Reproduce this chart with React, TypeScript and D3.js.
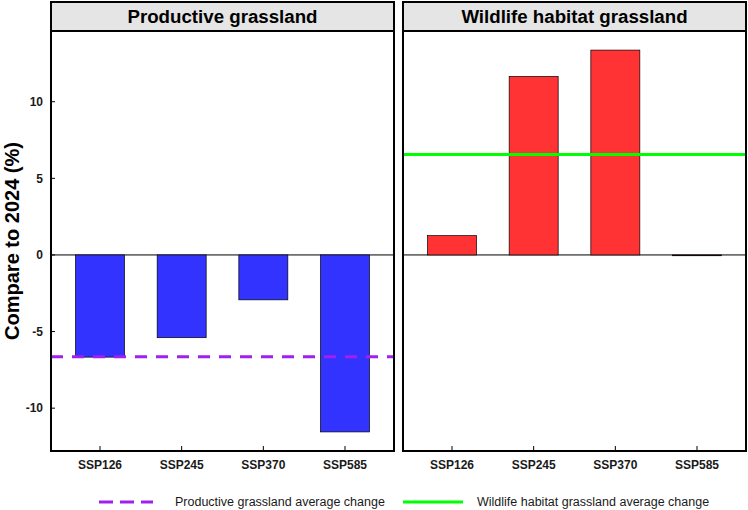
import React from "react";
import * as d3 from "d3";

const scenarios = ["SSP126", "SSP245", "SSP370", "SSP585"];
const productiveChange = [-6.67, -5.4, -2.93, -11.55];
const wildlifeChange = [1.26, 11.65, 13.37, -0.05];
const panelTitles = ["Productive grassland", "Wildlife habitat grassland"];
const yTicks = [-10, -5, 0, 5, 10];
const legendLabels = ["Productive grassland average change", "Wildlife habitat grassland average change"];

const W = 748, H = 510;
const FONT = "Liberation Sans, Arial, Helvetica, sans-serif";
const plotTop = 31, plotBottom = 451, stripTop = 2;
const panelsX: [number, number][] = [[51, 394], [403, 746]];
const barColors = ["#3333FF", "#FF3333"];
const avgColors = ["#A020F0", "#00FF00"];

export default function App() {
  const all = [...productiveChange, ...wildlifeChange];
  const lo = d3.min(all)!, hi = d3.max(all)!;
  const pad = (hi - lo) * 0.05;
  const y = d3.scaleLinear().domain([lo - pad, hi + pad]).range([plotBottom, plotTop]);
  const series = [productiveChange, wildlifeChange];

  return (
    <svg width={W} height={H} style={{ position: "absolute", left: 0, top: 0, background: "#fff" }} fontFamily={FONT}>
      {series.map((vals, pi) => {
        const [x0, x1] = panelsX[pi];
        const x = d3.scalePoint<string>().domain(scenarios).range([x0, x1]).padding(0.6);
        const bw = x.step() * 0.6;
        const avg = d3.mean(vals)!;
        return (
          <g key={pi}>
            <rect x={x0} y={plotTop} width={x1 - x0} height={plotBottom - plotTop} fill="#fff" />
            <line x1={x0} x2={x1} y1={y(0)} y2={y(0)} stroke="#000" strokeWidth={1} />
            {vals.map((v, i) => (
              <rect key={i} x={x(scenarios[i])! - bw / 2} width={bw}
                y={Math.min(y(v), y(0))} height={Math.max(Math.abs(y(v) - y(0)), 0.8)}
                fill={barColors[pi]} stroke="#000" strokeWidth={0.7} />
            ))}
            <line x1={x0} x2={x1} y1={y(avg)} y2={y(avg)} stroke={avgColors[pi]} strokeWidth={3}
              strokeDasharray={pi === 0 ? "12 9" : undefined} />
            {scenarios.map((s) => (
              <g key={s}>
                <line x1={x(s)} x2={x(s)} y1={plotBottom} y2={plotBottom - 5} stroke="#000" strokeWidth={1} />
                <text x={x(s)} y={plotBottom + 18} textAnchor="middle" fontSize={12} fontWeight="bold" fill="#1a1a1a">{s}</text>
              </g>
            ))}
            {pi === 0 && yTicks.map((t) => (
              <g key={t}>
                <line x1={x0} x2={x0 + 4} y1={y(t)} y2={y(t)} stroke="#000" strokeWidth={1} />
                <text x={x0 - 8} y={y(t)} dy="0.35em" textAnchor="end" fontSize={12} fontWeight="bold" fill="#1a1a1a">{t}</text>
              </g>
            ))}
            <rect x={x0} y={plotTop} width={x1 - x0} height={plotBottom - plotTop} fill="none" stroke="#000" strokeWidth={2} />
            <rect x={x0} y={stripTop} width={x1 - x0} height={plotTop - stripTop} fill="#E5E5E5" stroke="#000" strokeWidth={2} />
            <text x={(x0 + x1) / 2} y={(stripTop + plotTop) / 2} dy="0.36em" textAnchor="middle" fontSize={18.7} fontWeight="bold" fill="#000">{panelTitles[pi]}</text>
          </g>
        );
      })}
      <text transform={`translate(19,${(plotTop + plotBottom) / 2}) rotate(-90)`} textAnchor="middle" fontSize={20} fontWeight="bold" fill="#000">Compare to 2024 (%)</text>
      <line x1={99} x2={153} y1={502} y2={502} stroke={avgColors[0]} strokeWidth={3} strokeDasharray="14 7" />
      <text x={175} y={502} dy="0.35em" fontSize={12.5} fill="#1a1a1a">{legendLabels[0]}</text>
      <line x1={403} x2={463} y1={502} y2={502} stroke={avgColors[1]} strokeWidth={3} />
      <text x={477} y={502} dy="0.35em" fontSize={12.5} fill="#1a1a1a">{legendLabels[1]}</text>
    </svg>
  );
}
